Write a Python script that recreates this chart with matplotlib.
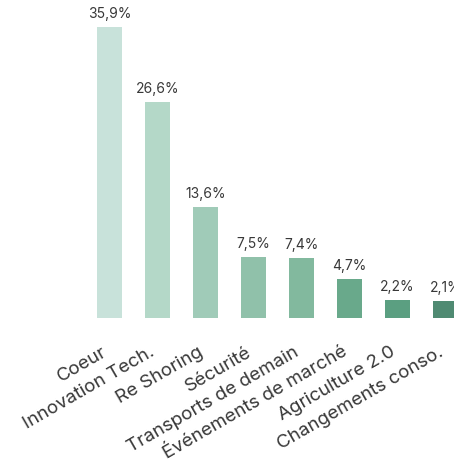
import numpy as np
import matplotlib.pyplot as plt

categories = ['Coeur', 'Innovation Tech.', 'Re Shoring', 'Sécurité',
              'Transports de demain', 'Événements de marché',
              'Agriculture 2.0', 'Changements conso.']
values = [35.9, 26.6, 13.6, 7.5, 7.4, 4.7, 2.2, 2.1]
value_labels = ['35,9%', '26,6%', '13,6%', '7,5%', '7,4%', '4,7%', '2,2%', '2,1%']
colors = ['#c8e2da', '#b4d8c8', '#a0cbb8', '#90c1aa', '#82b99e',
          '#69a98b', '#5b9f81', '#4f8a72']

plt.rcParams['font.family'] = ['Inter', 'DejaVu Sans']

fig = plt.figure(figsize=(4.54, 4.71), dpi=100)
ax = fig.add_axes([85.5 / 454, 153.5 / 471, 368.6 / 454, 323.7 / 471])

x = np.arange(len(values))
ax.bar(x, values, width=0.52, color=colors)
ax.set_xlim(-0.5, 7.18)
ax.set_ylim(0, 40)

for xi, v, lab in zip(x, values, value_labels):
    ax.annotate(lab, (xi, v), xytext=(0, 6), textcoords='offset pixels',
                ha='center', va='bottom', fontsize=10, color='#383838',
                annotation_clip=False)

for xi, cat in zip(x, categories):
    ax.annotate(cat, (xi, 0), xytext=(-8, -26), textcoords='offset pixels',
                ha='right', va='top', rotation=30, rotation_mode='anchor',
                fontsize=13.5, color='#383838', annotation_clip=False)

for s in ax.spines.values():
    s.set_visible(False)
ax.set_xticks([])
ax.set_yticks([])

fig.savefig('out.png', dpi=100)
